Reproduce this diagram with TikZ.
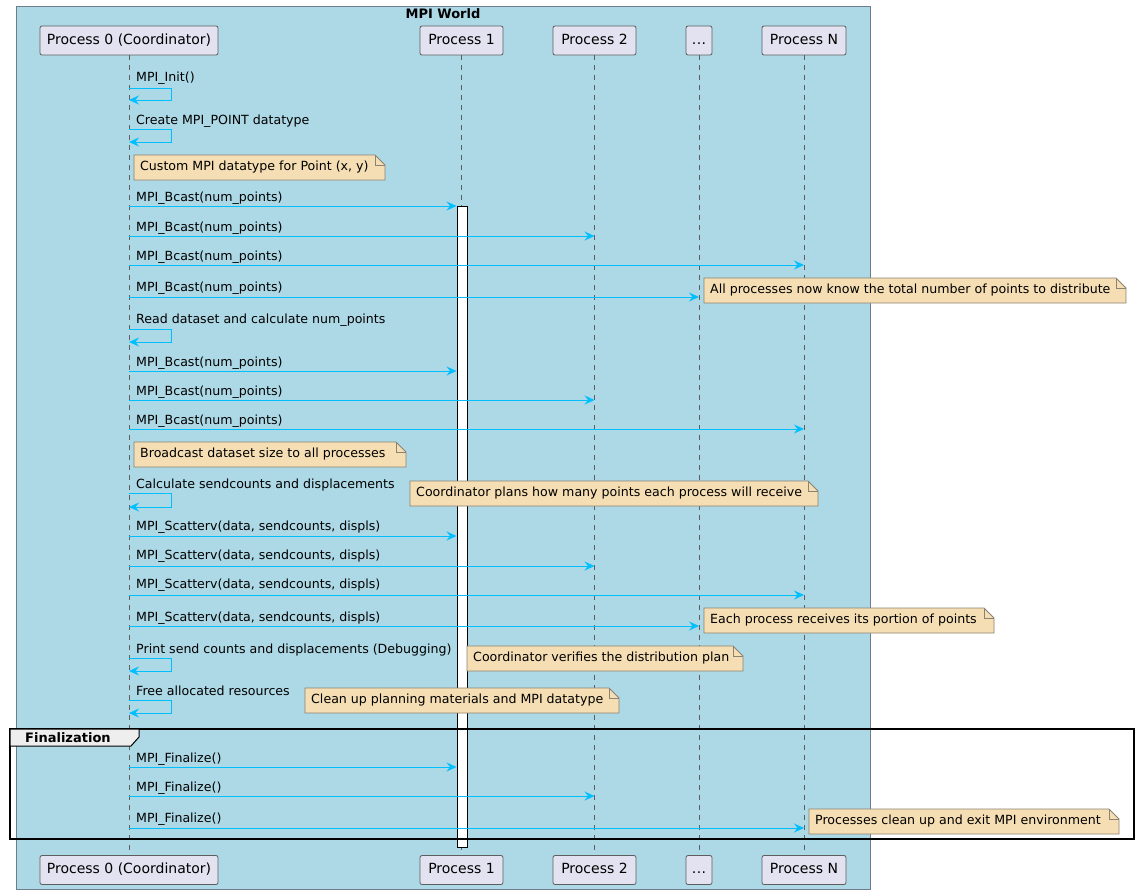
\documentclass[tikz,border=0pt]{standalone}
\usepackage{fontspec}
\setmainfont{DejaVu Sans}
\usetikzlibrary{arrows.meta}

\definecolor{worldbg}{HTML}{ADD8E6}
\definecolor{worldline}{HTML}{6E7E88}
\definecolor{msgblue}{HTML}{00BFFF}
\definecolor{partfill}{HTML}{E2E2F0}
\definecolor{partline}{HTML}{5E5E5E}
\definecolor{notefill}{HTML}{F5DEB3}
\definecolor{noteline}{HTML}{8A8272}
\definecolor{tabfill}{HTML}{EEEEEE}

\tikzset{
  participant/.style={draw=partline, fill=partfill, rounded corners=2pt,
    minimum height=29pt, inner xsep=3pt, inner ysep=0pt,
    text height=10.5pt, text depth=3pt,
    font=\fontsize{14}{16}\selectfont, line width=0.8pt},
  lifeline/.style={draw=partline, dash pattern=on 5pt off 5pt, line width=0.8pt},
  msg/.style={draw=msgblue, line width=1pt,
    -{Stealth[length=10pt,width=9pt,inset=3.5pt]}},
  msgtext/.style={anchor=base west, font=\fontsize{12.6}{15}\selectfont, inner sep=0pt},
  notetext/.style={anchor=west, font=\fontsize{12.6}{15}\selectfont, inner sep=0pt},
  notebody/.style={fill=notefill, draw=noteline, line width=0.8pt},
  actbar/.style={draw=black, fill=white, line width=1pt, inner sep=0pt,
    minimum width=10pt},
}

% a note with a folded top-right corner: name, x1, y1, x2, y2, text
\newcommand\notebox[6]{%
  \filldraw[notebody] (#2,#3) -- (#4-10,#3) -- (#4,#3+10) -- (#4,#5) -- (#2,#5) -- cycle;
  \draw[notebody, fill=none] (#4-10,#3) -- (#4-10,#3+10) -- (#4,#3+10);
  \node[notetext] (#1) at (#2+6,{(#3+#5)/2}) {#6};}

% a message from the coordinator to another lifeline: target, text y, arrow y, text
\newcommand\sendmsg[4]{%
  \node[msgtext] at (136,#2+4.5) {#4};
  \draw[msg] (p0t |- 0,#3) -- (#1 |- 0,#3);}

% a message from the coordinator to itself: text y, top y, bottom y, text
\newcommand\selfmsg[4]{%
  \node[msgtext] at (136,#1+4.5) {#4};
  \draw[msg] (p0t |- 0,#2) -- ++(42,0) -- ++(0,#3-#2) -- (p0t |- 0,#3);}

\begin{document}
\begin{tikzpicture}[x=1pt, y=-1pt]
\useasboundingbox (0,0) rectangle (1139,895);

% MPI World box
\draw[fill=worldbg, draw=worldline, line width=1pt] (16,6) rectangle (870,889);
\node[font=\fontsize{13}{15}\selectfont\bfseries, inner sep=0pt] (world) at (443,14) {MPI World};

% participants, top and bottom
\node[participant, minimum width=178pt] (p0t) at (129,40.5) {Process 0 (Coordinator)};
\node[participant, minimum width=83pt] (p1t) at (461.5,40.5) {Process 1};
\node[participant, minimum width=83pt] (p2t) at (594.5,40.5) {Process 2};
\node[participant, minimum width=26pt] (pdt) at (699,40.5) {.\kern0.5pt.\kern0.5pt.};
\node[participant, minimum width=84pt] (pnt) at (804,40.5) {Process N};

\node[participant, minimum width=178pt] (p0b) at (129,870) {Process 0 (Coordinator)};
\node[participant, minimum width=83pt] (p1b) at (461.5,870) {Process 1};
\node[participant, minimum width=83pt] (p2b) at (594.5,870) {Process 2};
\node[participant, minimum width=26pt] (pdb) at (699,870) {.\kern0.5pt.\kern0.5pt.};
\node[participant, minimum width=84pt] (pnb) at (804,870) {Process N};

% lifelines
\draw[lifeline] (p0t.south) -- (p0b.north);
\draw[lifeline] (p1t.south) -- (p1b.north);
\draw[lifeline] (p2t.south) -- (p2b.north);
\draw[lifeline] (pdt.south) -- (pdb.north);
\draw[lifeline] (pnt.south) -- (pnb.north);

% activation of process 1
\node[actbar, minimum height=641pt] (act) at (462,526.5) {};

% setup
\selfmsg{77}{88}{100}{MPI\_Init()}
\selfmsg{120}{129}{142}{Create MPI\_POINT datatype}
\notebox{n1}{134}{155}{385}{180}{Custom MPI datatype for Point (x, y)}

% first broadcast round
\sendmsg{act.west}{197}{206}{MPI\_Bcast(num\_points)}
\sendmsg{p2t}{227}{236}{MPI\_Bcast(num\_points)}
\sendmsg{pnt}{256}{265}{MPI\_Bcast(num\_points)}
\sendmsg{pdt}{287}{297}{MPI\_Bcast(num\_points)}
\notebox{n2}{704}{278}{1126}{303}{All processes now know the total number of points to distribute}

% second broadcast round
\selfmsg{319}{329}{342}{Read dataset and calculate num\_points}
\sendmsg{act.west}{362}{371}{MPI\_Bcast(num\_points)}
\sendmsg{p2t}{391}{400}{MPI\_Bcast(num\_points)}
\sendmsg{pnt}{420}{429}{MPI\_Bcast(num\_points)}
\notebox{n3}{134}{442}{406}{467}{Broadcast dataset size to all processes}

% scatter
\selfmsg{484}{493}{507}{Calculate sendcounts and displacements}
\notebox{n4}{410}{481}{818}{506}{Coordinator plans how many points each process will receive}
\sendmsg{act.west}{526}{536}{MPI\_Scatterv(data, sendcounts, displs)}
\sendmsg{p2t}{555}{566}{MPI\_Scatterv(data, sendcounts, displs)}
\sendmsg{pnt}{584}{595}{MPI\_Scatterv(data, sendcounts, displs)}
\sendmsg{pdt}{617}{626}{MPI\_Scatterv(data, sendcounts, displs)}
\notebox{n5}{704}{608}{994}{633}{Each process receives its portion of points}

% cleanup on the coordinator
\selfmsg{649}{658}{671}{Print send counts and displacements (Debugging)}
\notebox{n6}{467}{646}{743}{671}{Coordinator verifies the distribution plan}
\selfmsg{691}{700}{713}{Free allocated resources}
\notebox{n7}{305}{688}{619}{713}{Clean up planning materials and MPI datatype}

% finalization group
\sendmsg{act.west}{758}{767}{MPI\_Finalize()}
\sendmsg{p2t}{787}{796}{MPI\_Finalize()}
\sendmsg{pnt}{818}{828}{MPI\_Finalize()}
\notebox{n8}{809}{809}{1119}{834}{Processes clean up and exit MPI environment}

\draw[draw=black, line width=1.6pt] (10,729) rectangle (1134,839);
\filldraw[fill=tabfill, draw=black, line width=1pt]
  (10,729) -- (139,729) -- (139,737) -- (131,746) -- (10,746) -- cycle;
\node[anchor=west, font=\fontsize{13}{15}\selectfont\bfseries, inner sep=0pt] (grp) at (25,737.5) {Finalization};
\end{tikzpicture}
\end{document}
